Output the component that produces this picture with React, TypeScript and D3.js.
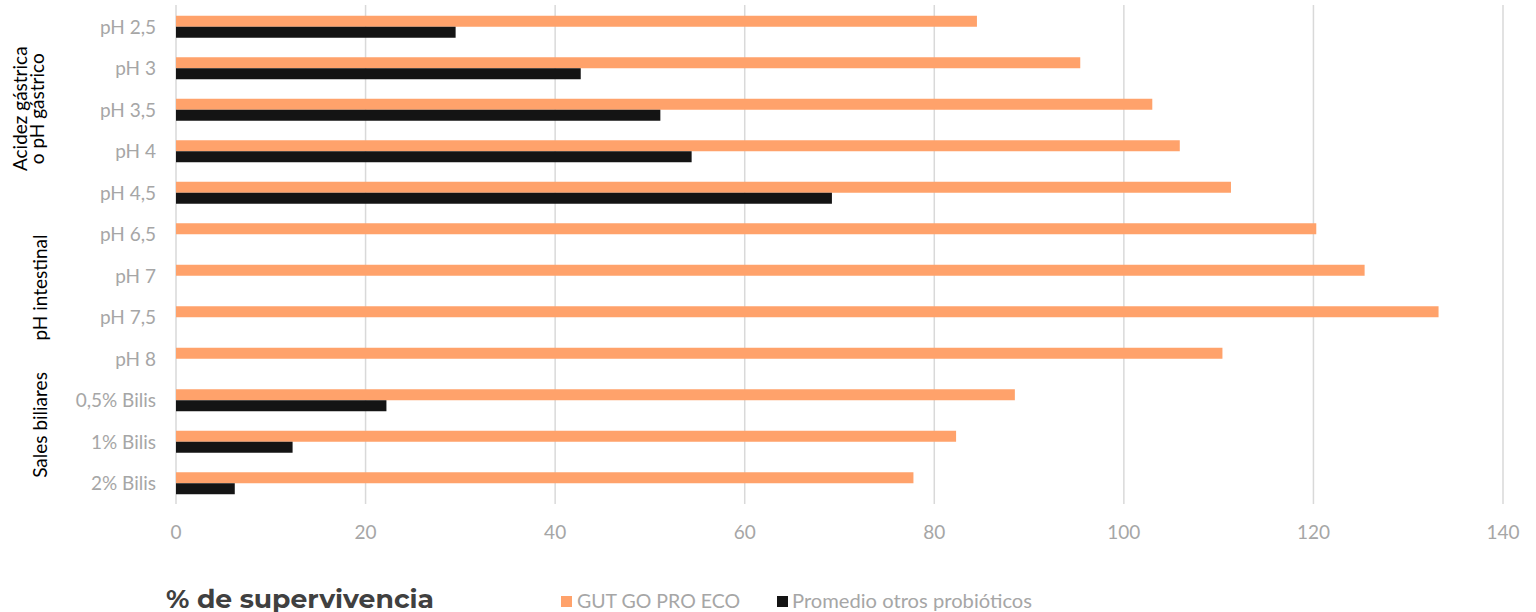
import React from "react";
import * as d3 from "d3";

const categories = ["pH 2,5", "pH 3", "pH 3,5", "pH 4", "pH 4,5", "pH 6,5", "pH 7", "pH 7,5", "pH 8", "0,5% Bilis", "1% Bilis", "2% Bilis"];
const gutGo = [84.5, 95.4, 103.0, 105.9, 111.3, 120.3, 125.4, 133.2, 110.4, 88.5, 82.3, 77.8];
const otros: (number | null)[] = [29.5, 42.7, 51.1, 54.4, 69.2, null, null, null, null, 22.2, 12.3, 6.2];
const xTicks = [0, 20, 40, 60, 80, 100, 120, 140];
const seriesNames = ["GUT GO PRO ECO", "Promedio otros probióticos"];
const groups = [
  { lines: ["Acidez gástrica", "o pH gástrico"], a: "pH 3,5", b: "pH 3,5", dy: -1, xs: [27, 44] },
  { lines: ["pH intestinal"], a: "pH 7", b: "pH 7,5", dy: -9, xs: [47] },
  { lines: ["Sales biliares"], a: "0,5% Bilis", b: "1% Bilis", dy: 4, xs: [47] },
];

const ORANGE = "#FFA26B";
const BLACK = "#141414";
const GRAY = "#A6A6A6";
const FONT = "Lato, 'Open Sans', sans-serif";

export default function App() {
  const W = 1536, H = 612;
  const left = 176, right = 1503, top = 6, bottom = 504;
  const x = d3.scaleLinear().domain([0, 140]).range([left, right]);
  const y = d3.scaleBand().domain(categories).range([top, bottom]).paddingInner(0.47).paddingOuter(0.235);
  const bw = y.bandwidth() / 2;
  const mid = (c: string) => y(c)! + y.bandwidth() / 2;

  return (
    <svg width={W} height={H} style={{ position: "absolute", left: 0, top: 0, background: "#fff" }}>
      {xTicks.map((t) => (
        <g key={t}>
          <line x1={x(t)} x2={x(t)} y1={5} y2={504} stroke="#D9D9D9" strokeWidth={1.5} />
          <text x={x(t)} y={539} textAnchor="middle" fontFamily={FONT} fontSize={19} fill={GRAY}>{t}</text>
        </g>
      ))}
      {categories.map((c, i) => (
        <g key={c}>
          <rect x={x(0)} y={y(c)!} width={x(gutGo[i]) - x(0)} height={bw} fill={ORANGE} />
          {otros[i] != null && (
            <rect x={x(0)} y={y(c)! + bw} width={x(otros[i] as number) - x(0)} height={bw} fill={BLACK} />
          )}
          <text x={156} y={mid(c) + 7} textAnchor="end" fontFamily={FONT} fontSize={19} fill={GRAY}>{c}</text>
        </g>
      ))}
      {groups.map((g) => {
        const cy = (mid(g.a) + mid(g.b)) / 2 + g.dy;
        return g.lines.map((l, li) => (
          <text key={l} transform={`translate(${g.xs[li]},${cy}) rotate(-90)`} textAnchor="middle" fontFamily={FONT} fontSize={19} fill="#000">{l}</text>
        ));
      })}
      <text x={166} y={608} fontFamily="Montserrat, 'Open Sans', sans-serif" fontWeight={700} fontSize={26} fill="#404040" textLength={268} lengthAdjust="spacingAndGlyphs">% de supervivencia</text>
      <rect x={561} y={596} width={11} height={11} fill={ORANGE} />
      <text x={577} y={608} fontFamily={FONT} fontSize={19.5} fill={GRAY}>{seriesNames[0]}</text>
      <rect x={777} y={596} width={11} height={11} fill={BLACK} />
      <text x={792} y={608} fontFamily={FONT} fontSize={19.5} fill={GRAY} textLength={240} lengthAdjust="spacingAndGlyphs">{seriesNames[1]}</text>
    </svg>
  );
}
